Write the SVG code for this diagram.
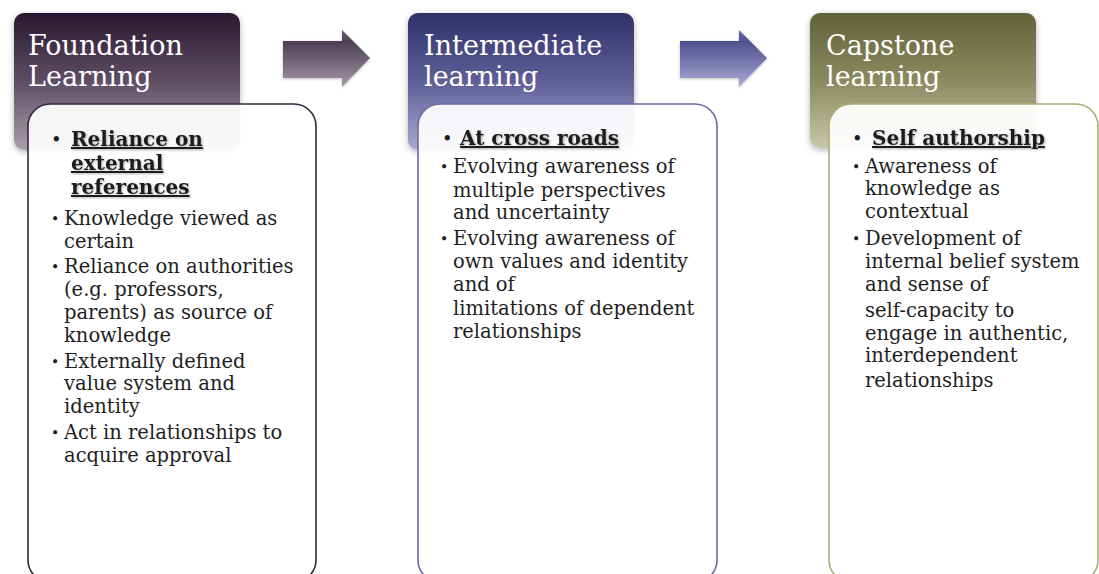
<svg xmlns="http://www.w3.org/2000/svg" width="1099" height="574" viewBox="0 0 1099 574">
<defs>
<linearGradient id="g1" x1="0" y1="0" x2="0" y2="1"><stop offset="0" stop-color="#2a1830"/><stop offset="0.5" stop-color="#5e4e64"/><stop offset="1" stop-color="#a99ea9"/></linearGradient>
<linearGradient id="g2" x1="0" y1="0" x2="0" y2="1"><stop offset="0" stop-color="#30306a"/><stop offset="0.5" stop-color="#5f5f98"/><stop offset="1" stop-color="#a9a9d2"/></linearGradient>
<linearGradient id="g3" x1="0" y1="0" x2="0" y2="1"><stop offset="0" stop-color="#62623a"/><stop offset="0.5" stop-color="#8a8a60"/><stop offset="1" stop-color="#c8c8aa"/></linearGradient>
<linearGradient id="a1" x1="0" y1="0" x2="0" y2="1"><stop offset="0" stop-color="#6d6173"/><stop offset="0.2" stop-color="#4c3f54"/><stop offset="1" stop-color="#a498a8"/></linearGradient>
<linearGradient id="a2" x1="0" y1="0" x2="0" y2="1"><stop offset="0" stop-color="#6a6aa6"/><stop offset="0.2" stop-color="#50508e"/><stop offset="1" stop-color="#aaaad8"/></linearGradient>
<filter id="sh" x="-10%" y="-10%" width="120%" height="125%"><feDropShadow dx="0" dy="2" stdDeviation="3" flood-color="#000" flood-opacity="0.3"/></filter>
<filter id="ash" x="-10%" y="-10%" width="120%" height="130%"><feDropShadow dx="0" dy="1" stdDeviation="1.5" flood-color="#000" flood-opacity="0.25"/></filter>
<filter id="tsh" x="-5%" y="-20%" width="110%" height="140%"><feDropShadow dx="1" dy="1" stdDeviation="0.8" flood-color="#000" flood-opacity="0.3"/></filter>
</defs>
<style>
.hd{font-family:"DejaVu Serif","Liberation Serif",serif;font-size:27px;fill:#ffffff}
.bd{fill:#ffffff;fill-opacity:0.93;stroke-width:1.6}
.h{font-family:"DejaVu Serif","Liberation Serif",serif;font-size:20px;font-weight:bold;fill:#1e1e1e;text-decoration:underline}
.t{font-family:"DejaVu Serif","Liberation Serif",serif;font-size:19.5px;fill:#1e1e1e}
.b{font-family:"DejaVu Serif","Liberation Serif",serif;font-size:14px;fill:#1e1e1e}
.hb{font-family:"DejaVu Serif","Liberation Serif",serif;font-size:18px;fill:#1e1e1e}
</style>
<rect width="1099" height="574" fill="#ffffff"/>
<g id="connectors">
<path d="M283,41 H342 V30 L370,58 L342,87 V78 H283 Z" fill="url(#a1)" filter="url(#ash)"/>
<path d="M680,41 H739 V30 L767,58 L739,87 V78 H680 Z" fill="url(#a2)" filter="url(#ash)"/>
</g>
<g id="foundation">
<rect x="14" y="13" width="226" height="137" rx="10" fill="url(#g1)" filter="url(#sh)"/>
<text class="hd" x="28" y="55">Foundation</text>
<text class="hd" x="28" y="86">Learning</text>
<rect class="bd" x="28" y="104" width="288" height="478" rx="22" stroke="#33243d"/>
<text class="hb" x="51" y="146">•</text>
<g filter="url(#tsh)">
<text class="h" x="71" y="146">Reliance on</text>
<text class="h" x="71" y="170">external</text>
<text class="h" x="71" y="194">references</text>
</g>
<text class="b" x="51" y="224">•</text><text class="t" x="64" y="225">Knowledge viewed as</text>
<text class="t" x="64" y="248">certain</text>
<text class="b" x="51" y="272">•</text><text class="t" x="64" y="273">Reliance on authorities</text>
<text class="t" x="64" y="296">(e.g. professors,</text>
<text class="t" x="64" y="319">parents) as source of</text>
<text class="t" x="64" y="342">knowledge</text>
<text class="b" x="51" y="367">•</text><text class="t" x="64" y="368">Externally defined</text>
<text class="t" x="64" y="390">value system and</text>
<text class="t" x="64" y="413">identity</text>
<text class="b" x="51" y="438">•</text><text class="t" x="64" y="439">Act in relationships to</text>
<text class="t" x="64" y="462">acquire approval</text>
</g>
<g id="intermediate">
<rect x="408" y="13" width="226" height="137" rx="10" fill="url(#g2)" filter="url(#sh)"/>
<text class="hd" x="424" y="55">Intermediate</text>
<text class="hd" x="424" y="86">learning</text>
<rect class="bd" x="418" y="104" width="299" height="478" rx="22" stroke="#6a6aa8"/>
<text class="hb" x="442" y="145">•</text>
<text class="h" x="460" y="145" filter="url(#tsh)">At cross roads</text>
<text class="b" x="440" y="172">•</text><text class="t" x="453" y="173">Evolving awareness of</text>
<text class="t" x="453" y="197">multiple perspectives</text>
<text class="t" x="453" y="219">and uncertainty</text>
<text class="b" x="440" y="244">•</text><text class="t" x="453" y="245">Evolving awareness of</text>
<text class="t" x="453" y="268">own values and identity</text>
<text class="t" x="453" y="291">and of</text>
<text class="t" x="453" y="315">limitations of dependent</text>
<text class="t" x="453" y="338">relationships</text>
</g>
<g id="capstone">
<rect x="810" y="13" width="226" height="135" rx="10" fill="url(#g3)" filter="url(#sh)"/>
<text class="hd" x="826" y="55">Capstone</text>
<text class="hd" x="826" y="86">learning</text>
<rect class="bd" x="829" y="104" width="269" height="478" rx="22" stroke="#a8ae72"/>
<text class="hb" x="852" y="145">•</text>
<text class="h" x="872" y="145" filter="url(#tsh)">Self authorship</text>
<text class="b" x="852" y="172">•</text><text class="t" x="865" y="173">Awareness of</text>
<text class="t" x="865" y="195">knowledge as</text>
<text class="t" x="865" y="218">contextual</text>
<text class="b" x="852" y="244">•</text><text class="t" x="865" y="245">Development of</text>
<text class="t" x="865" y="268">internal belief system</text>
<text class="t" x="865" y="291">and sense of</text>
<text class="t" x="865" y="317">self-capacity  to</text>
<text class="t" x="865" y="340">engage in authentic,</text>
<text class="t" x="865" y="362">interdependent</text>
<text class="t" x="865" y="387">relationships</text>
</g>
</svg>
